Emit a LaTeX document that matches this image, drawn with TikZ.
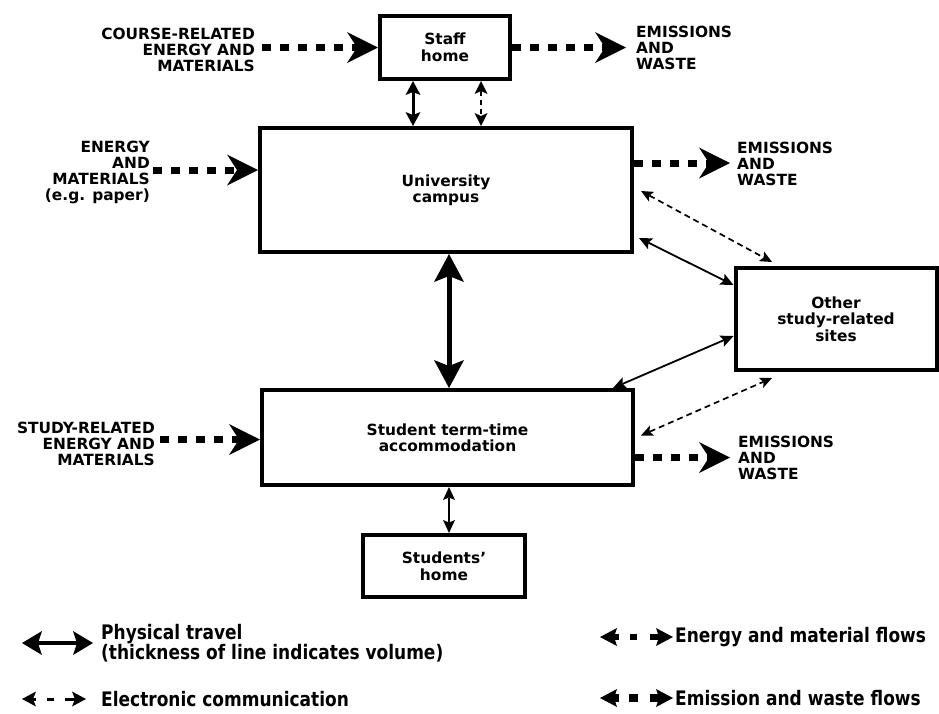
\documentclass[tikz,border=0pt]{standalone}
\usepackage{fontspec}
\setmainfont{DejaVu Sans}
\newfontfamily\legfont[FakeStretch=0.85]{DejaVu Sans}
\usetikzlibrary{arrows.meta,calc}
\tikzset{
  legS/.tip={Stealth[length=14pt,width=15pt,inset=3pt,line width=0pt]},
  legM/.tip={Stealth[length=17pt,width=18pt,inset=3pt,line width=0pt]},
}
\begin{document}
\begin{tikzpicture}[x=1pt,y=-1pt,
  box/.style={draw, line width=4pt, align=center, inner sep=0pt,
    font=\bfseries\fontsize{15.4}{16.5}\selectfont},
  lbl/.style={align=right, anchor=east, inner sep=0pt,
    font=\bfseries\fontsize{15.4}{16}\selectfont},
  lblw/.style={align=left, anchor=west, inner sep=0pt,
    font=\bfseries\fontsize{15.4}{16}\selectfont},
  legtxt/.style={align=left, anchor=west, inner sep=0pt,
    font=\legfont\bfseries\fontsize{20}{19.5}\selectfont},
  flow/.style={line width=7pt, dash pattern=on 9pt off 9pt,
    -{Stealth[length=31pt,width=31pt,inset=10pt,line width=0pt]}},
  physthick/.style={line width=5pt,
    {Stealth[length=28pt,width=30pt,inset=6pt,line width=0pt]}-{Stealth[length=28pt,width=30pt,inset=6pt,line width=0pt]}},
  physmed/.style={line width=3pt,
    {Stealth[length=14pt,width=15pt,inset=3pt,line width=0pt]}-{Stealth[length=14pt,width=15pt,inset=3pt,line width=0pt]}},
  physthin/.style={line width=1.8pt,
    {Stealth[length=13pt,width=12pt,inset=2.5pt,line width=0pt]}-{Stealth[length=13pt,width=12pt,inset=2.5pt,line width=0pt]}},
  elec/.style={line width=1.7pt, dash pattern=on 6pt off 4pt,
    {Stealth[length=12pt,width=11pt,inset=2.5pt,line width=0pt]}-{Stealth[length=12pt,width=11pt,inset=2.5pt,line width=0pt]}},
  elecmed/.style={line width=2pt, dash pattern=on 5pt off 4pt,
    {Stealth[length=13pt,width=13pt,inset=3pt,line width=0pt]}-{Stealth[length=13pt,width=13pt,inset=3pt,line width=0pt]}},
]
\useasboundingbox[fill=white] (0,0) rectangle (939,713);

% boxes
\node[box, minimum width=130pt, minimum height=63pt] (staff) at (445,47.5) {Staff\\home};
\node[box, minimum width=372pt, minimum height=124pt] (campus) at (446,190) {University\\campus};
\node[box, minimum width=371pt, minimum height=95pt] (accom) at (447.5,437.5) {Student term-time\\accommodation};
\node[box, minimum width=162pt, minimum height=62pt] (shome) at (444,566) {Students'\\home};
\node[box, minimum width=201pt, minimum height=102pt] (other) at (836,319) {Other\\study-related\\sites};

% side labels
\node[lbl] (t1) at (255,50) {COURSE-RELATED\\ENERGY AND\\MATERIALS};
\node[lbl] (t2) at (150,172) {ENERGY\\AND\\MATERIALS\\(e.g. paper)};
\node[lbl] (t3) at (155,444) {STUDY-RELATED\\ENERGY AND\\MATERIALS};
\node[lblw] (e1) at (636,48) {EMISSIONS\\AND\\WASTE};
\node[lblw] (e2) at (737,164) {EMISSIONS\\AND\\WASTE};
\node[lblw] (e3) at (738,458) {EMISSIONS\\AND\\WASTE};

% flows
\draw[flow] ($(t1.east |- staff.west)+(7,0)$) -- (staff.west);
\draw[flow] (staff.east) -- ($(e1.west |- staff.east)+(-10,0)$);
\draw[flow] ($(t2.east |- campus.west)+(3,-20)$) -- ($(campus.west)+(0,-20)$);
\draw[flow] ($(campus.east)+(0,-27)$) -- ($(e2.west |- campus.east)+(-7,-27)$);
\draw[flow] ($(t3.east |- accom.west)+(5,2)$) -- ($(accom.west)+(0,2)$);
\draw[flow] ($(accom.east)+(0,20)$) -- ($(e3.west |- accom.east)+(-8,20)$);

% physical travel
\draw[physmed] ([xshift=-32pt]staff.south) -- ([xshift=-33pt]campus.north);
\draw[physthick] ([xshift=3pt]campus.south) -- ([xshift=1.5pt]accom.north);
\draw[physthin] ([xshift=1.5pt]accom.south) -- ([xshift=5pt]shome.north);
\draw[physthin] ([xshift=5pt,yshift=-48pt]campus.east) -- ([yshift=34pt]other.west);
\draw[physthin] ([xshift=-22pt]accom.north east) -- ([yshift=-17pt]other.west);

% electronic
\draw[elecmed] ([xshift=36pt]staff.south) -- ([xshift=35pt]campus.north);
\draw[elec] ([xshift=7pt,yshift=-1pt]campus.east) -- ([xshift=-64pt,yshift=4pt]other.north);
\draw[elec] ([xshift=6pt,yshift=2pt]accom.east) -- ([xshift=-64pt,yshift=-6pt]other.south);

% legend
\coordinate (l1a) at (22,643);
\coordinate (l1b) at (93,643);
\coordinate (l2a) at (22,699);
\coordinate (l2b) at (86,699);
\coordinate (l3a) at (600,637);
\coordinate (l3b) at (673,637);
\coordinate (l4a) at (600,698);
\coordinate (l4b) at (673,698);
\draw[line width=3.5pt,
  {Stealth[length=20pt,width=24pt,inset=4pt,line width=0pt]}-{Stealth[length=20pt,width=24pt,inset=4pt,line width=0pt]}] (l1a) -- (l1b);
\draw[line width=3pt, dash pattern=on 3pt off 11pt on 7pt off 11pt on 10pt, legS-legS] (l2a) -- (l2b);
\draw[line width=6pt, dash pattern=on 5pt off 11pt on 7pt off 13pt on 12pt, legM-legM] (l3a) -- (l3b);
\draw[line width=7.5pt, dash pattern=on 5pt off 10pt on 9pt off 12pt on 12pt, legM-legM] (l4a) -- (l4b);
\node[legtxt] (g1) at (101,643) {Physical travel\\(thickness of line indicates volume)};
\node[legtxt] (g2) at (101,699) {Electronic communication};
\node[legtxt] (g3) at (675,637) {Energy and material flows};
\node[legtxt] (g4) at (675,698) {Emission and waste flows};
\end{tikzpicture}
\end{document}
